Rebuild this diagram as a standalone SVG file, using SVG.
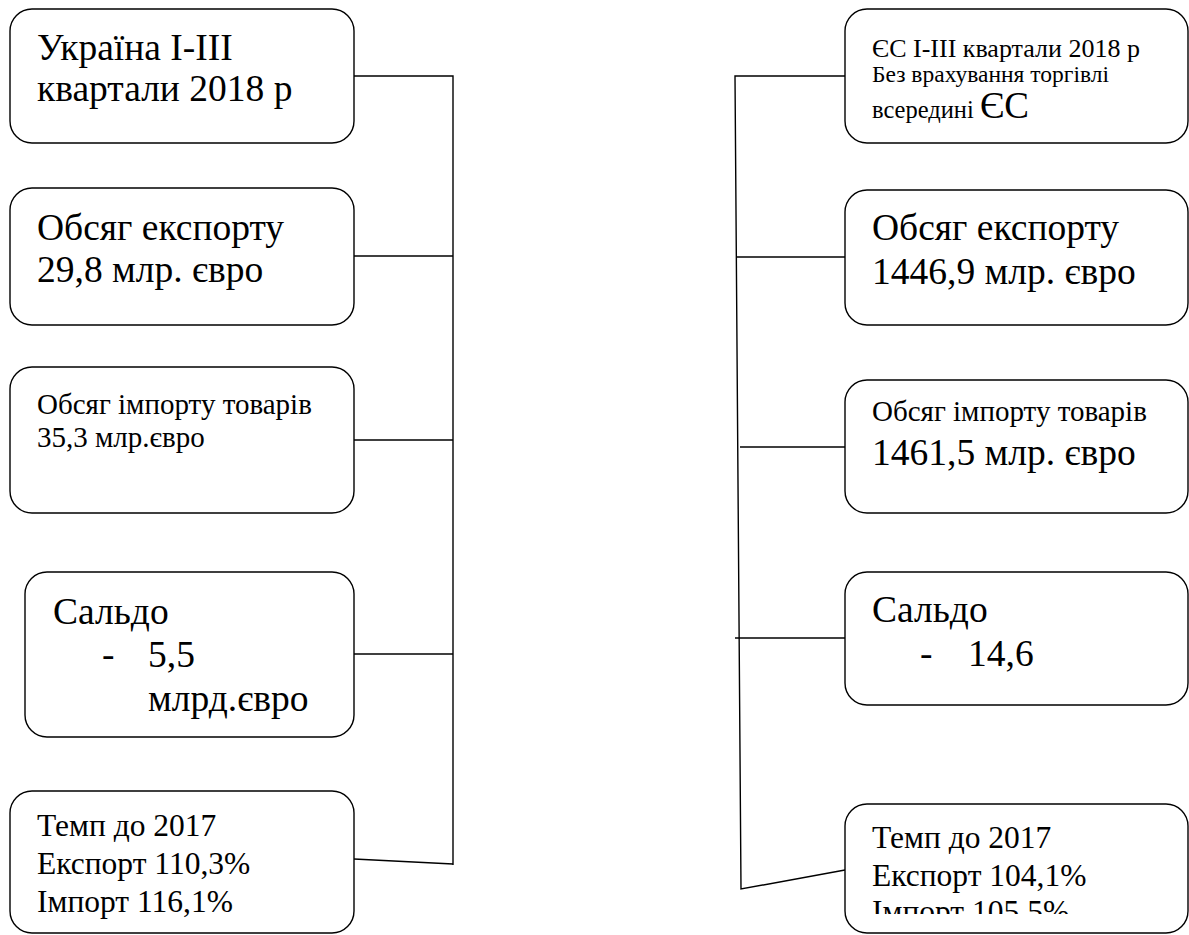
<svg xmlns="http://www.w3.org/2000/svg" width="1189" height="935" viewBox="0 0 1189 935">
<style>
.box{fill:#fff;stroke:#000;stroke-width:1.4}
.c{fill:none;stroke:#000;stroke-width:1.4}
text{font-family:"Liberation Serif","Times New Roman",serif;fill:#000}
.L{font-size:37.5px}
.M{font-size:31.5px}
.S{font-size:29px}
.T1{font-size:26px}
.T2{font-size:23.5px}
.T3{font-size:24.5px}
.T4{font-size:37px}
</style>
<defs>
<clipPath id="clipR5"><rect x="845" y="804" width="344" height="110"/></clipPath>
</defs>
<rect width="1189" height="935" fill="#fff"/>
<g id="connectors">
<polyline class="c" points="354,76 453,76 453,865"/>
<line class="c" x1="354" y1="256" x2="453" y2="256"/>
<line class="c" x1="354" y1="440" x2="453" y2="440"/>
<line class="c" x1="354" y1="654" x2="453" y2="654"/>
<line class="c" x1="354" y1="859" x2="453" y2="864"/>
<polyline class="c" points="845,76 735,76 741,889 845,870"/>
<line class="c" x1="736" y1="257" x2="845" y2="257"/>
<line class="c" x1="740" y1="447" x2="845" y2="447"/>
<line class="c" x1="735" y1="638" x2="845" y2="638"/>
</g>
<g id="ua-title">
<rect class="box" x="10" y="9" width="344" height="134" rx="22"/>
<text class="L" x="37" y="60">Україна І-ІІІ</text>
<text class="L" x="37" y="101">квартали 2018 р</text>
</g>
<g id="ua-export">
<rect class="box" x="10" y="188" width="344" height="137" rx="22"/>
<text class="L" x="37" y="240">Обсяг експорту</text>
<text class="L" x="37" y="282">29,8 млр. євро</text>
</g>
<g id="ua-import">
<rect class="box" x="10" y="367" width="344" height="146" rx="22"/>
<text class="S" x="37" y="414">Обсяг імпорту товарів</text>
<text class="S" x="37" y="447">35,3 млр.євро</text>
</g>
<g id="ua-saldo">
<rect class="box" x="25" y="572" width="329" height="165" rx="22"/>
<text class="L" x="53" y="624">Сальдо</text>
<text class="L" x="102" y="667">-</text>
<text class="L" x="148" y="667">5,5</text>
<text class="L" x="148" y="711">млрд.євро</text>
</g>
<g id="ua-rate">
<rect class="box" x="10" y="791" width="344" height="142" rx="22"/>
<text class="M" x="37" y="836">Темп до 2017</text>
<text class="M" x="37" y="874">Експорт 110,3%</text>
<text class="M" x="37" y="912">Імпорт 116,1%</text>
</g>
<g id="eu-title">
<rect class="box" x="845" y="9" width="343" height="134" rx="22"/>
<text class="T1" x="872" y="57">ЄС І-ІІІ квартали 2018 р</text>
<text class="T2" x="872" y="82">Без врахування торгівлі</text>
<text x="872" y="118"><tspan class="T3">всередині </tspan><tspan class="T4">ЄС</tspan></text>
</g>
<g id="eu-export">
<rect class="box" x="845" y="190" width="343" height="135" rx="22"/>
<text class="L" x="872" y="240">Обсяг експорту</text>
<text class="L" x="872" y="284">1446,9 млр. євро</text>
</g>
<g id="eu-import">
<rect class="box" x="845" y="380" width="343" height="133" rx="22"/>
<text class="S" x="872" y="421">Обсяг імпорту товарів</text>
<text class="L" x="872" y="465">1461,5 млр. євро</text>
</g>
<g id="eu-saldo">
<rect class="box" x="845" y="572" width="343" height="133" rx="22"/>
<text class="L" x="872" y="622">Сальдо</text>
<text class="L" x="920" y="666">-</text>
<text class="L" x="968" y="666">14,6</text>
</g>
<g id="eu-rate">
<rect class="box" x="845" y="804" width="343" height="129" rx="22"/>
<g clip-path="url(#clipR5)">
<text class="M" x="872" y="848">Темп до 2017</text>
<text class="M" x="872" y="886">Експорт 104,1%</text>
<text class="M" x="872" y="922">Імпорт 105,5%</text>
</g>
</g>
</svg>
